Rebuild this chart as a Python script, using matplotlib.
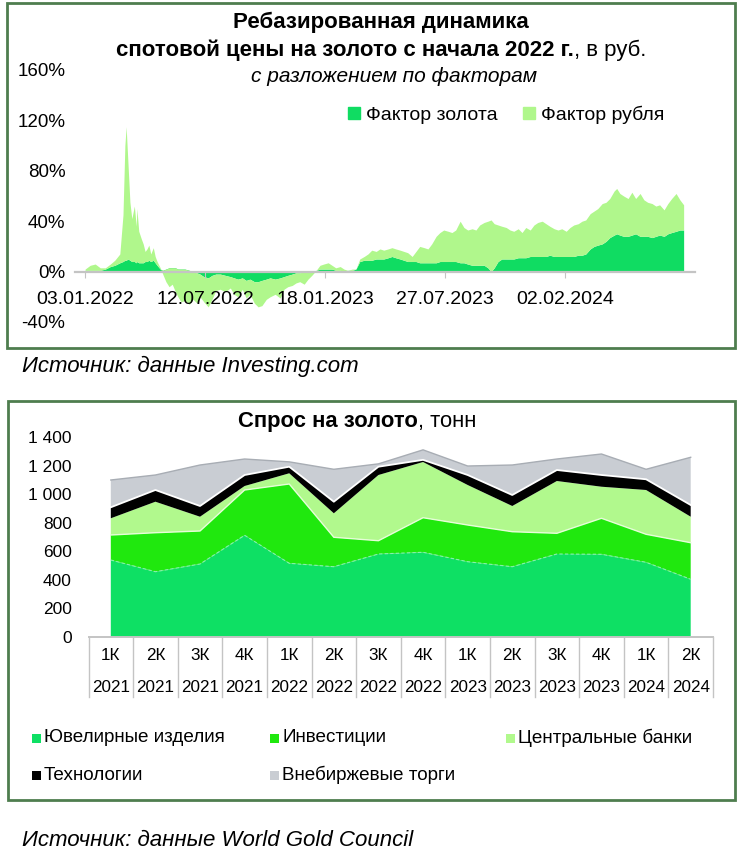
import numpy as np
import matplotlib.pyplot as plt
from matplotlib.patches import Rectangle, Patch
from matplotlib.ticker import FuncFormatter

plt.rcParams['font.family'] = ['Liberation Sans', 'DejaVu Sans']

# ---- top chart: rebased gold price in RUB, split by factors (% since 03.01.2022)
start_date = '2022-01-03'
day_offsets = [0, 8, 16, 24, 32, 40, 47, 55, 60, 63, 65, 68, 71, 74, 78, 81, 82, 85, 89, 92,
               95, 98, 101, 104, 108, 111, 114, 119, 123, 128, 133, 138, 143, 147, 152, 158, 165, 171, 177, 182,
               188, 195, 201, 207, 214, 222, 230, 236, 242, 249, 255, 261, 268, 274, 280, 287, 293, 301, 309, 315,
               321, 328, 334, 340, 347, 353, 359, 366, 372, 378, 385, 391, 397, 404, 410, 416, 423, 429, 435, 442,
               448, 454, 461, 467, 473, 480, 486, 492, 499, 505, 511, 518, 524, 530, 537, 543, 549, 556, 562, 568,
               575, 581, 587, 594, 600, 606, 613, 619, 625, 632, 638, 643, 648, 654, 660, 667, 673, 679, 686, 692,
               698, 705, 711, 717, 724, 730, 736, 743, 749, 755, 762, 768, 774, 781, 787, 793, 800, 806, 812, 819,
               825, 831, 838, 842, 847, 853, 860, 866, 872, 879, 885, 891, 898, 904, 910, 917, 923, 929, 936, 942, 948]
gold_factor = [1, 1, 1, 1, 2, 4, 5, 7, 8, 9, 9, 10, 9, 8, 8, 7, 8, 7, 7, 7,
               8, 8, 9, 8, 9, 7, 5, 2, 1, 2, 3, 3, 3, 2, 2, 2, 1, 0, -1, -2,
               -4, -5, -3, -2, -2, -3, -4, -5, -6, -5, -7, -6, -8, -8, -7, -6, -5, -6, -5, -4,
               -3, -2, -1, -1, 0, 0, 0, 1, 2, 2, 2, 2, 1, 1, 0, 1, 1, 2, 8, 9,
               9, 9, 10, 10, 10, 11, 12, 11, 10, 9, 8, 8, 8, 7, 7, 7, 7, 7, 8, 8,
               8, 8, 8, 7, 7, 6, 5, 5, 5, 5, 3, 0, 3, 8, 10, 10, 10, 10, 11, 11,
               11, 12, 12, 12, 12, 12, 13, 12, 12, 12, 12, 12, 12, 13, 13, 14, 18, 20, 21, 22,
               24, 27, 29, 30, 29, 28, 28, 29, 30, 28, 28, 28, 27, 28, 29, 28, 30, 31, 32, 33, 33]
ruble_factor = [1, 4, 5, 2, 1, 2, 4, 7, 37, 91, 106, 75, 46, 34, 44, 29, 42, 25, 19, 15,
                8, 10, 12, 6, 10, 5, 3, 1, -3, -10, -15, -13, -19, -22, -26, -25, -27, -22, -24, -18,
                -20, -23, -19, -13, -12, -13, -9, -13, -14, -9, -14, -12, -17, -20, -20, -16, -15, -12, -16, -10,
                -9, -9, -8, -7, -10, -6, -3, 0, 3, 4, 5, 3, 2, 3, 2, 0, 1, 0, 2, 3,
                5, 8, 6, 8, 7, 7, 7, 7, 7, 7, 7, 4, 8, 13, 12, 11, 15, 21, 23, 25,
                24, 23, 25, 33, 28, 27, 29, 28, 32, 34, 37, 41, 35, 29, 26, 25, 23, 22, 23, 20,
                24, 21, 25, 27, 28, 26, 23, 22, 21, 22, 20, 23, 25, 25, 27, 27, 28, 28, 29, 32,
                31, 31, 35, 36, 33, 32, 30, 34, 28, 34, 29, 27, 27, 24, 24, 21, 24, 27, 30, 24, 20]
top_ticks = ['2022-01-03', '2022-07-12', '2023-01-18', '2023-07-27', '2024-02-02']
top_tick_labels = ['03.01.2022', '12.07.2022', '18.01.2023', '27.07.2023', '02.02.2024']
top_yticks = [-40, 0, 40, 80, 120, 160]

# ---- bottom chart: gold demand by quarter, tonnes
quarters = ['1К', '2К', '3К', '4К', '1К', '2К', '3К', '4К', '1К', '2К', '3К', '4К', '1К', '2К']
years = ['2021', '2021', '2021', '2021', '2022', '2022', '2022', '2022', '2023', '2023', '2023', '2023', '2024', '2024']
jewelry = [539, 457, 511, 712, 516, 492, 581, 593, 527, 492, 581, 579, 523, 404]
investment = [175, 273, 231, 317, 555, 206, 93, 242, 257, 245, 145, 252, 196, 256]
central_banks = [117, 217, 100, 28, 75, 168, 460, 390, 280, 180, 366, 221, 310, 182]
technology = [77, 82, 75, 77, 46, 81, 58, 15, 70, 77, 77, 82, 75, 82]
otc = [191, 105, 287, 112, 34, 227, 20, 70, 63, 210, 77, 147, 70, 334]
bottom_yticks = [0, 200, 400, 600, 800, 1000, 1200, 1400]

c_gold = '#10dc62'
c_ruble = '#b0f78c'
c_jew = '#0ee064'
c_inv = '#20e80e'
c_cb = '#b1f98d'
c_tech = '#000000'
c_otc = '#c9cdd3'
c_frame = '#4e7d4e'

W, H = 744, 852
fig = plt.figure(figsize=(W / 100, H / 100), dpi=100)
renderer = fig.canvas.get_renderer()


def fx(px):
    return px / W


def fy(py):
    return 1 - py / H


def two_part(x_left, y, bold_txt, normal_txt, size, center=None):
    # bold part followed by a regular part on the same line
    t1 = fig.text(fx(x_left), fy(y), bold_txt, ha='left', va='center', fontsize=size, fontweight='bold')
    t2 = fig.text(0, fy(y), normal_txt, ha='left', va='center', fontsize=size)
    w1 = t1.get_window_extent(renderer).width
    w2 = t2.get_window_extent(renderer).width
    if center is not None:
        x_left = center - (w1 + w2) / 2
        t1.set_x(fx(x_left))
    t2.set_x(fx(x_left + w1))


# frames
fig.patches.append(Rectangle((fx(7), fy(348)), fx(735) - fx(7), fy(3) - fy(348), transform=fig.transFigure,
                             fill=False, edgecolor=c_frame, lw=2))
fig.patches.append(Rectangle((fx(8), fy(800)), fx(735) - fx(8), fy(401) - fy(800), transform=fig.transFigure,
                             fill=False, edgecolor=c_frame, lw=2))

# ---------- top chart
ax1 = fig.add_axes([fx(75), fy(322), fx(695) - fx(75), fy(70) - fy(322)])
dates = np.datetime64(start_date) + np.array(day_offsets)
gold = np.array(gold_factor)
total = gold + np.array(ruble_factor)
ax1.fill_between(dates, 0, gold, color=c_gold, lw=0)
ax1.fill_between(dates, gold, total, color=c_ruble, lw=0)
ax1.set_xlim(np.datetime64(start_date) - 16, np.datetime64(start_date) + 966)
ax1.set_ylim(-40, 160)
ax1.set_yticks(top_yticks)
ax1.set_yticklabels([f'{v}%' for v in top_yticks])
ax1.set_xticks(np.array(top_ticks, dtype='datetime64[D]'))
ax1.set_xticklabels(top_tick_labels)
for s in ['top', 'right', 'left']:
    ax1.spines[s].set_visible(False)
ax1.spines['bottom'].set_position(('data', 0))
ax1.spines['bottom'].set_color('#c4c4c4')
ax1.spines['bottom'].set_linewidth(1.6)
ax1.tick_params(axis='x', length=4, color='#c4c4c4', pad=10, labelsize=14)
ax1.tick_params(axis='y', length=0, pad=7, labelsize=13.5)
ax1.patch.set_alpha(0)

ax1.legend(handles=[Patch(color=c_gold, label='Фактор золота'), Patch(color=c_ruble, label='Фактор рубля')],
           loc='center left', bbox_to_anchor=(fx(348), fy(115)), bbox_transform=fig.transFigure,
           ncol=2, frameon=False, handlelength=0.6, handleheight=0.6, handletextpad=0.3,
           columnspacing=1.35, fontsize=14, borderpad=0, borderaxespad=0)

fig.text(fx(381), fy(22), 'Ребазированная динамика', ha='center', va='center', fontsize=16, fontweight='bold')
two_part(112, 50, 'спотовой цены на золото с начала 2022 г.', ', в руб.', 16, center=381)
fig.text(fx(394), fy(76), 'с разложением по факторам', ha='center', va='center', fontsize=15, style='italic')
fig.text(fx(22), fy(366), 'Источник: данные Investing.com', ha='left', va='center', fontsize=16, style='italic')

# ---------- bottom chart
ax2 = fig.add_axes([fx(88.5), fy(637), fx(713) - fx(88.5), fy(437) - fy(637)])
x = np.arange(len(quarters))
layers = np.array([jewelry, investment, central_banks, technology, otc])
ax2.stackplot(x, layers, colors=[c_jew, c_inv, c_cb, c_tech, c_otc], lw=0)
tops = np.cumsum(layers, axis=0)
ax2.plot(x, tops[0], color='#86f0ad', lw=0.8, ls=(0, (3, 2)))
ax2.plot(x, tops[1], color='#e6fdd8', lw=1)
ax2.plot(x, tops[3], color='white', lw=1.3)
ax2.plot(x, tops[4], color='#a8adb4', lw=1)
ax2.set_xlim(-0.5, len(quarters) - 0.5)
ax2.set_ylim(0, 1400)
ax2.set_yticks(bottom_yticks)
ax2.yaxis.set_major_formatter(FuncFormatter(lambda v, p: f'{int(v):,}'.replace(',', ' ')))
ax2.set_xticks([])
for s in ['top', 'right', 'left']:
    ax2.spines[s].set_visible(False)
ax2.spines['bottom'].set_color('#c4c4c4')
ax2.spines['bottom'].set_linewidth(1.4)
ax2.tick_params(axis='y', length=0, pad=12, labelsize=12.5)
ax2.patch.set_alpha(0)

tr = ax2.get_xaxis_transform()
for i in range(len(quarters) + 1):
    ax2.plot([i - 0.5, i - 0.5], [0, -0.3], transform=tr, color='#c4c4c4', lw=1, clip_on=False)
for i, (q, yr) in enumerate(zip(quarters, years)):
    ax2.text(i, -0.095, q, transform=tr, ha='center', va='center', fontsize=12.3)
    ax2.text(i, -0.255, yr, transform=tr, ha='center', va='center', fontsize=12.3)

two_part(238, 421, 'Спрос на золото', ', тонн', 15.8)

legend_items = [('Ювелирные изделия', c_jew, 37, 738), ('Инвестиции', c_inv, 275, 738),
                ('Центральные банки', c_cb, 511, 738), ('Технологии', c_tech, 37, 775),
                ('Внебиржевые торги', c_otc, 275, 775)]
for label, col, lx, ly in legend_items:
    fig.patches.append(Rectangle((fx(lx - 5), fy(ly + 5)), 9 / W, 9 / H, transform=fig.transFigure,
                                 color=col, lw=0))
    fig.text(fx(lx + 7), fy(ly), label, ha='left', va='center', fontsize=13.6)

fig.text(fx(22), fy(840), 'Источник: данные World Gold Council', ha='left', va='center', fontsize=16,
         style='italic')

fig.savefig('out.png', dpi=100)
